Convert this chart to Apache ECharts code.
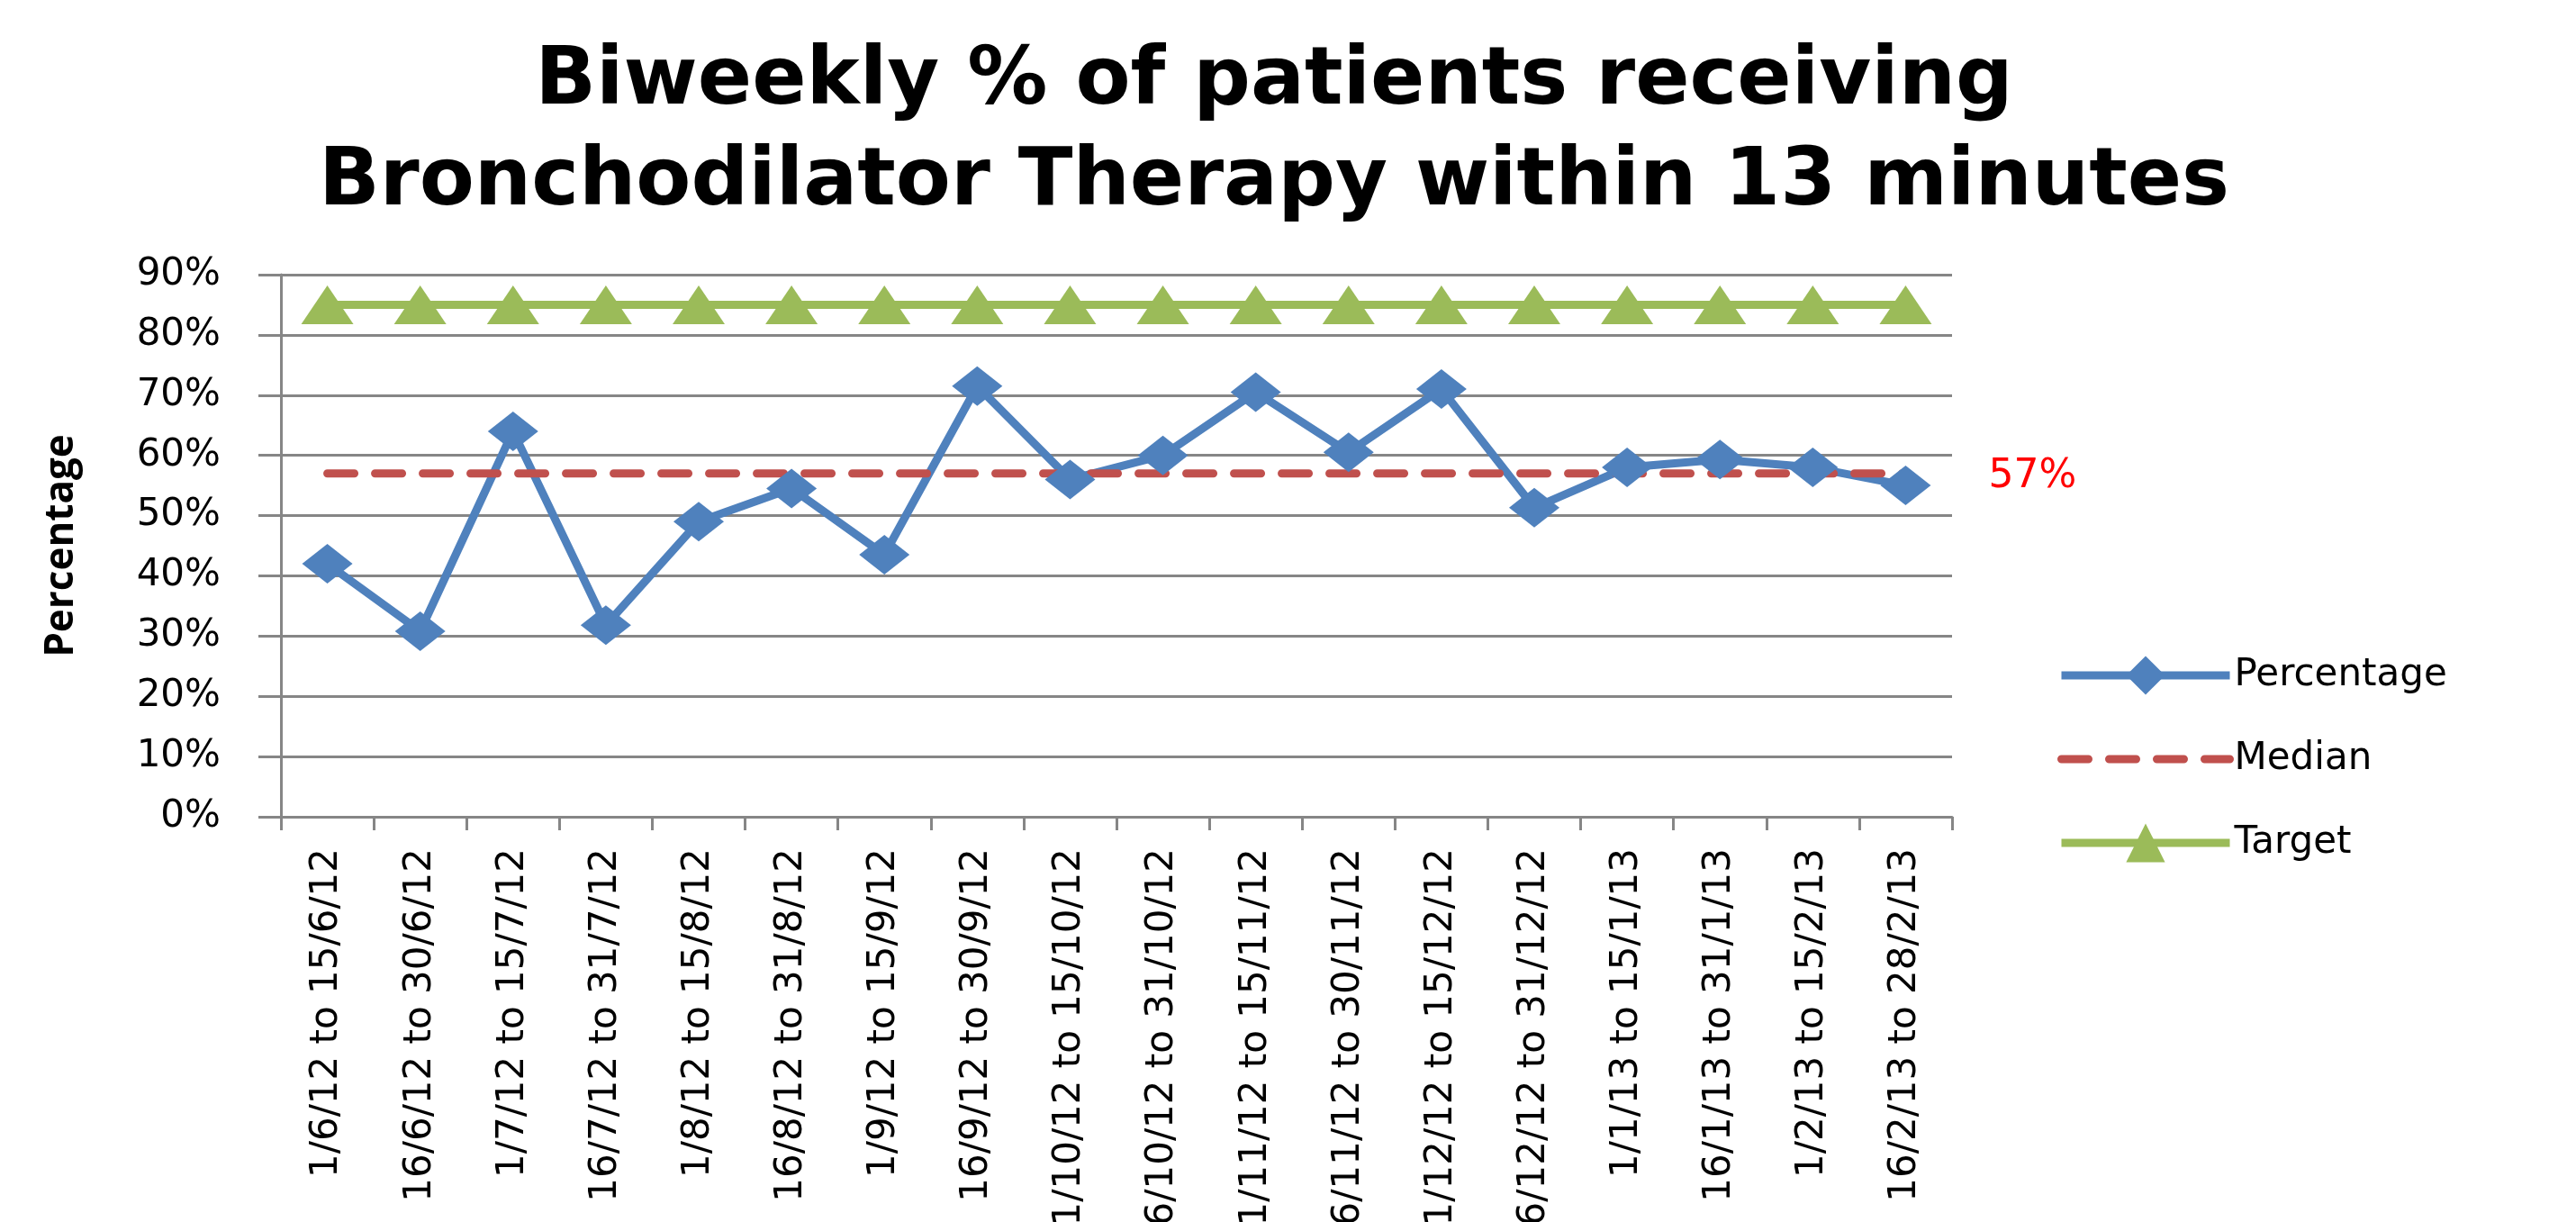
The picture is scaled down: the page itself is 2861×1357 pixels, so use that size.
<!DOCTYPE html>
<html>
<head>
<meta charset="utf-8">
<script src="https://cdn.jsdelivr.net/npm/echarts@6/dist/echarts.min.js"></script>
<style>
html,body{margin:0;padding:0;background:#fff;}
#chart{width:2861px;height:1357px;}
</style>
</head>
<body>
<div id="chart"></div>
<script>
const categories = [
  '1/6/12 to 15/6/12', '16/6/12 to 30/6/12', '1/7/12 to 15/7/12', '16/7/12 to 31/7/12',
  '1/8/12 to 15/8/12', '16/8/12 to 31/8/12', '1/9/12 to 15/9/12', '16/9/12 to 30/9/12',
  '1/10/12 to 15/10/12', '16/10/12 to 31/10/12', '1/11/12 to 15/11/12', '16/11/12 to 30/11/12',
  '1/12/12 to 15/12/12', '16/12/12 to 31/12/12', '1/1/13 to 15/1/13', '16/1/13 to 31/1/13',
  '1/2/13 to 15/2/13', '16/2/13 to 28/2/13'
];
const percentage = [42, 30.8, 64, 31.8, 49, 54.5, 43.5, 71.5, 56, 60, 70.5, 60.5, 71, 51.3, 58, 59.3, 58, 55];
const median = [57, 57, 57, 57, 57, 57, 57, 57, 57, 57, 57, 57, 57, 57, 57, 57, 57, 57];
const target = [85, 85, 85, 85, 85, 85, 85, 85, 85, 85, 85, 85, 85, 85, 85, 85, 85, 85];
const yTicks = { min: 0, max: 90, interval: 10 };
const titleLines = ['Biweekly % of patients receiving', 'Bronchodilator Therapy within 13 minutes'];
const seriesNames = ['Percentage', 'Median', 'Target'];

const chart = echarts.init(document.getElementById('chart'));
const tickFont = 'DejaVu Sans';
chart.setOption({
  backgroundColor: '#ffffff',
  animation: false,
  title: {
    text: titleLines.join('\n'),
    left: 1410,
    textAlign: 'center',
    top: 31,
    textStyle: { fontFamily: 'DejaVu Sans', fontWeight: 'bold', fontSize: 89, lineHeight: 112, color: '#000' }
  },
  legend: {
    orient: 'vertical',
    left: 2280,
    top: 718,
    itemWidth: 187,
    itemHeight: 54,
    itemGap: 39,
    lineStyle: { width: 9 },
    textStyle: { fontFamily: tickFont, fontSize: 42, color: '#000', lineHeight: 54 },
    data: [
      { name: seriesNames[0] },
      { name: seriesNames[1], itemStyle: { opacity: 0 } },
      { name: seriesNames[2] }
    ]
  },
  grid: { left: 312, right: 693, top: 305, bottom: 450, containLabel: false, outerBoundsMode: 'none' },
  xAxis: {
    type: 'category',
    data: categories,
    boundaryGap: true,
    axisLine: { lineStyle: { color: '#868686', width: 3 } },
    axisTick: { show: true, length: 15, interval: 0, lineStyle: { color: '#868686', width: 3 } },
    axisLabel: { interval: 0, rotate: 90, margin: 35, fontFamily: tickFont, fontSize: 42, color: '#000' },
    splitLine: { show: false }
  },
  yAxis: {
    type: 'value',
    min: yTicks.min, max: yTicks.max, interval: yTicks.interval,
    name: 'Percentage',
    nameLocation: 'middle',
    nameGap: 222,
    nameRotate: 90,
    nameTextStyle: { fontFamily: 'Open Sans', fontWeight: 'bold', fontSize: 44, color: '#000' },
    axisLine: { show: true, lineStyle: { color: '#868686', width: 3 } },
    axisTick: { show: true, length: 25, lineStyle: { color: '#868686', width: 3 } },
    axisLabel: { margin: 67, formatter: '{value}%', fontFamily: tickFont, fontSize: 42, color: '#000' },
    splitLine: { show: true, lineStyle: { color: '#868686', width: 3 } }
  },
  series: [
    {
      name: seriesNames[0], type: 'line', data: percentage,
      symbol: 'diamond', symbolSize: [56, 44],
      lineStyle: { color: '#4F81BD', width: 9 },
      itemStyle: { color: '#4F81BD' }
    },
    {
      name: seriesNames[1], type: 'line', data: median,
      symbol: 'circle', showSymbol: false,
      lineStyle: { color: '#C0504D', width: 9, type: [30, 23], cap: 'round' },
      itemStyle: { color: '#C0504D' },
      endLabel: {
        show: true, formatter: '57%', distance: 92, offset: [0, 4],
        fontFamily: tickFont, fontSize: 44, color: '#FF0000'
      }
    },
    {
      name: seriesNames[2], type: 'line', data: target,
      symbol: 'triangle', symbolSize: [58, 43],
      lineStyle: { color: '#9BBB59', width: 9 },
      itemStyle: { color: '#9BBB59' }
    }
  ]
});
</script>
</body>
</html>
